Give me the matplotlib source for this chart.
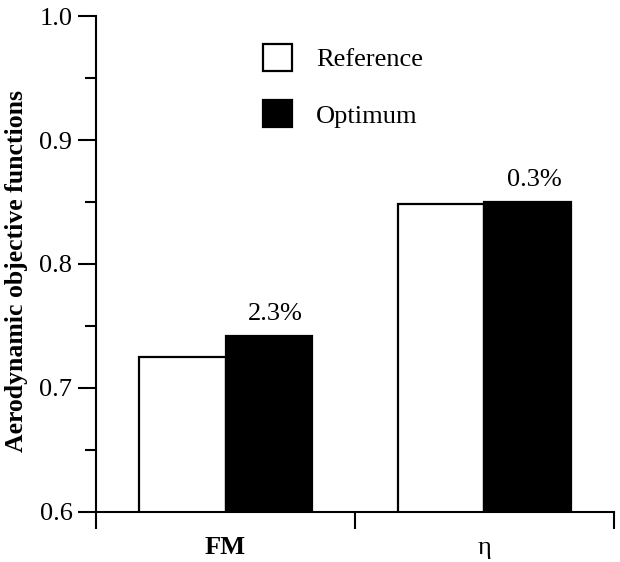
import matplotlib.pyplot as plt
import numpy as np
from matplotlib.ticker import MultipleLocator

plt.rcParams['font.family'] = ['Liberation Serif', 'DejaVu Serif']

groups = ["FM", "\u03b7"]
reference = [0.725, 0.848]
optimum = [0.742, 0.850]
gains = ["2.3%", "0.3%"]

fig = plt.figure(figsize=(6.2, 5.62), dpi=100)
ax = fig.add_axes([0.155, 0.089, 0.835, 0.8825])

x = np.array([0.5, 1.5])
w = 0.335
ax.bar(x - w / 2, reference, w, color="white", edgecolor="black",
       linewidth=1.6, label="Reference")
ax.bar(x + w / 2, optimum, w, color="black", edgecolor="black",
       linewidth=1.6, label="Optimum")

# percentage gains over the optimum bars
for xi, yi, g in zip(x + w / 2, optimum, gains):
    ax.text(xi + 0.025, yi + 0.013, g, ha="center", va="baseline", fontsize=19)

ax.set_xlim(0, 2)
ax.set_ylim(0.6, 1.0)
ax.set_xticks([0, 1, 2])
ax.set_xticklabels([])
ax.yaxis.set_major_locator(MultipleLocator(0.1))
ax.yaxis.set_minor_locator(MultipleLocator(0.05))
ax.yaxis.set_major_formatter(plt.FuncFormatter(lambda v, p: f"{v:.1f}"))
ax.tick_params(axis="y", which="major", length=13, width=1.5, labelsize=19, pad=4)
ax.tick_params(axis="y", which="minor", length=8, width=1.5)
ax.tick_params(axis="x", which="major", length=12, width=1.5)

for xi, g in zip(x, groups):
    ax.text(xi, -0.085, g, transform=ax.get_xaxis_transform(), ha="center", va="baseline",
            fontsize=19, fontweight="bold" if g == "FM" else "normal")

ax.spines["top"].set_visible(False)
ax.spines["right"].set_visible(False)
ax.spines["left"].set_linewidth(1.5)
ax.spines["bottom"].set_linewidth(1.5)

ax.set_ylabel("Aerodynamic objective functions", fontsize=18.5, fontweight="bold")
ax.yaxis.set_label_coords(-0.131, 0.486)

ax.legend(loc="upper left", bbox_to_anchor=(0.302, 0.965), frameon=False, fontsize=19,
          handlelength=1.1, handleheight=1.2, handletextpad=0.9, labelspacing=1.1,
          borderaxespad=0)

fig.savefig("out.png", dpi=100)
